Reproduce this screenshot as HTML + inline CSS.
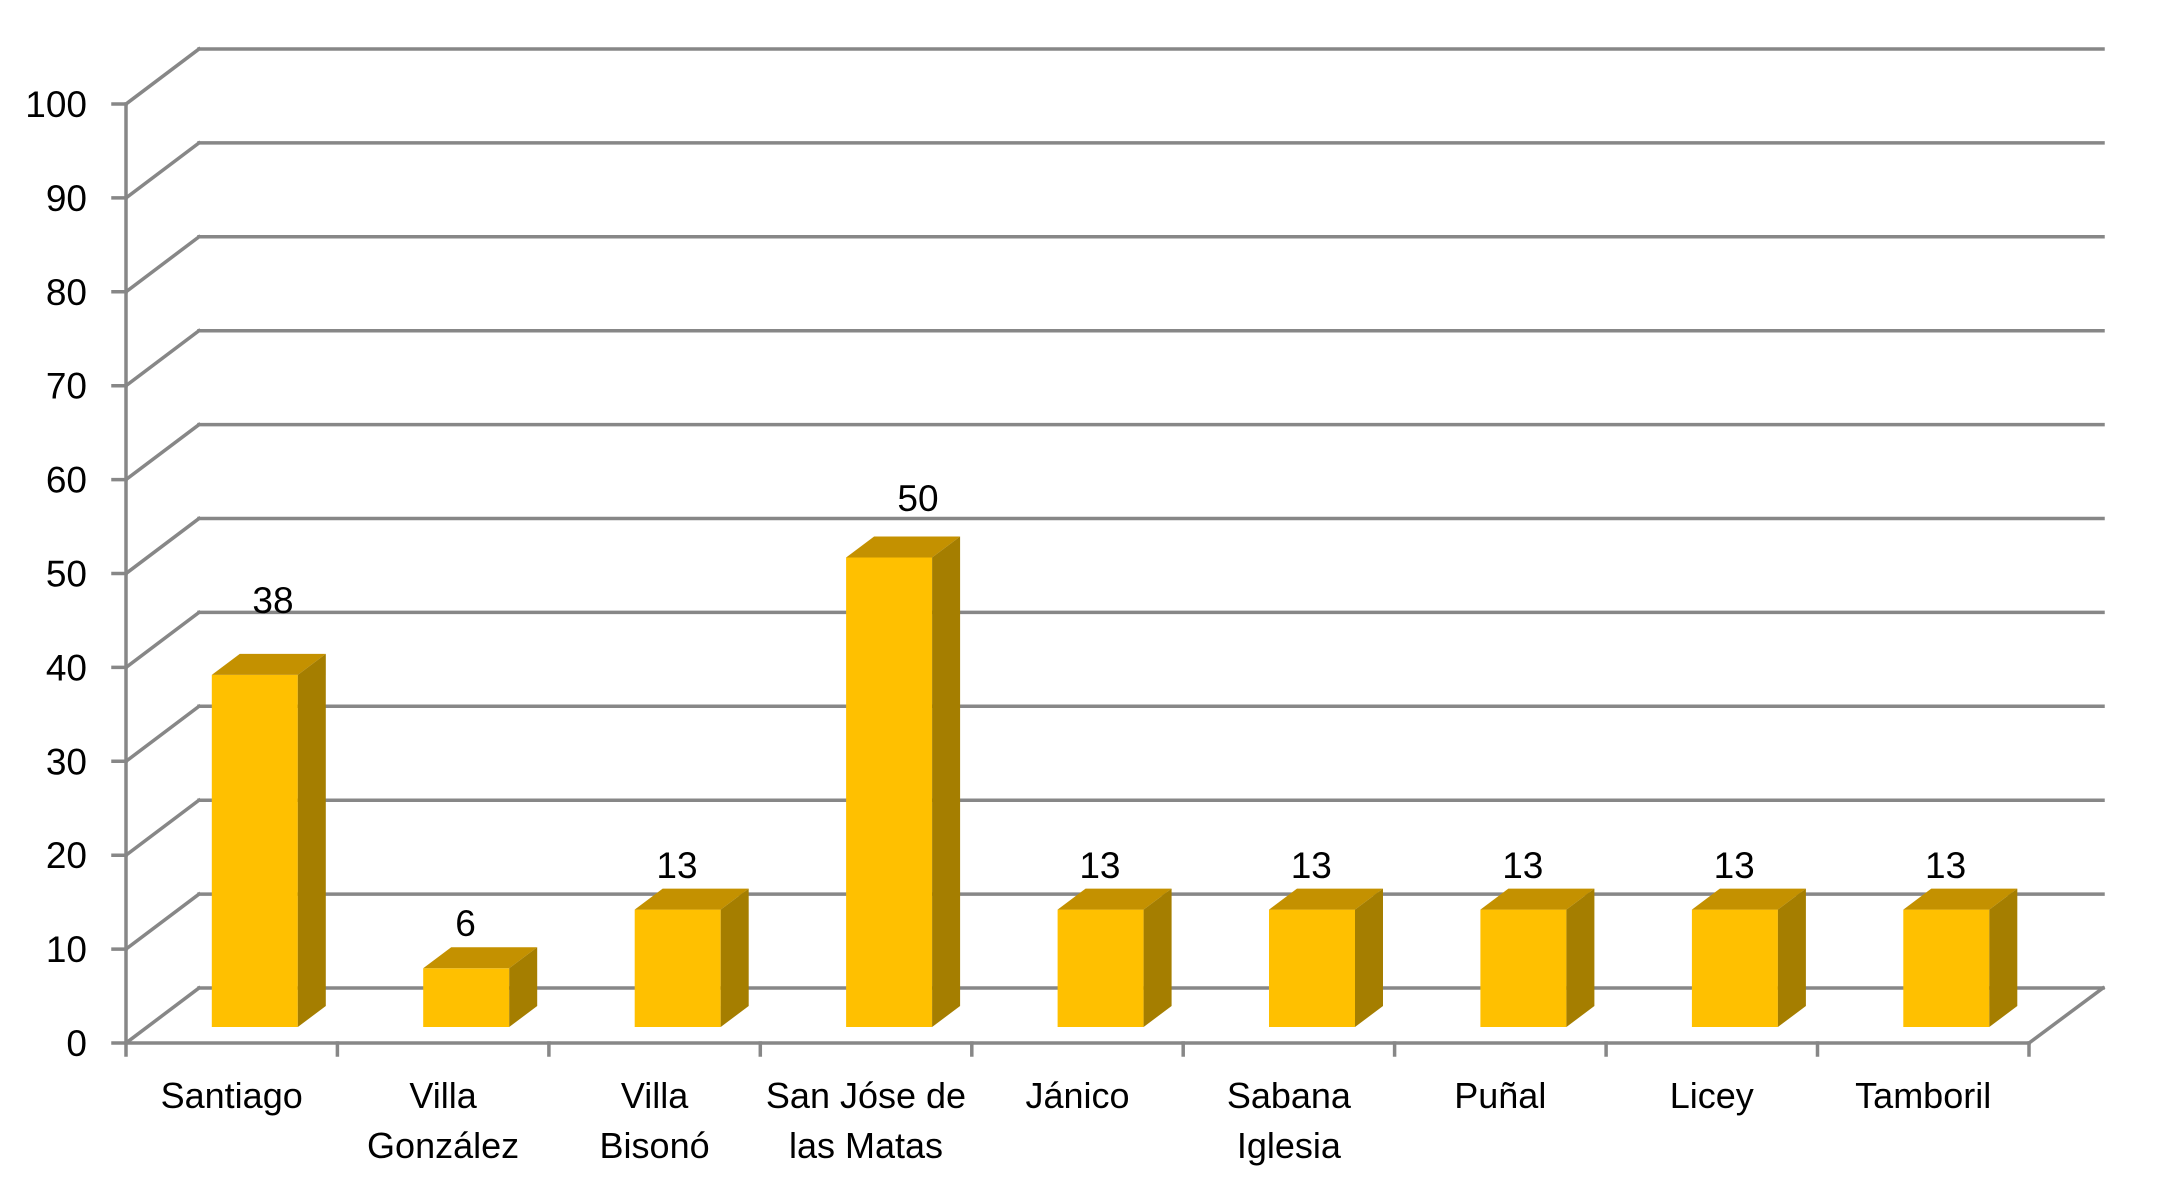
<!DOCTYPE html>
<html>
<head>
<meta charset="utf-8">
<style>
  html, body { margin:0; padding:0; background:#ffffff; }
  svg { display:block; }
  text { font-family: "Liberation Sans", "DejaVu Sans", sans-serif; fill:#000; }
</style>
</head>
<body>
<svg width="2169" height="1199" viewBox="0 0 2169 1199" xmlns="http://www.w3.org/2000/svg">
  <rect x="0" y="0" width="2169" height="1199" fill="#ffffff"/>
  <g stroke="#878787" stroke-width="3.5" fill="none" stroke-linecap="square">
    <line x1="199" y1="988" x2="2103" y2="988"/>
    <line x1="126" y1="1043" x2="199" y2="988"/>
    <line x1="113" y1="1043" x2="126" y2="1043"/>
    <line x1="199" y1="894.1" x2="2103" y2="894.1"/>
    <line x1="126" y1="949.1" x2="199" y2="894.1"/>
    <line x1="113" y1="949.1" x2="126" y2="949.1"/>
    <line x1="199" y1="800.2" x2="2103" y2="800.2"/>
    <line x1="126" y1="855.2" x2="199" y2="800.2"/>
    <line x1="113" y1="855.2" x2="126" y2="855.2"/>
    <line x1="199" y1="706.3" x2="2103" y2="706.3"/>
    <line x1="126" y1="761.3" x2="199" y2="706.3"/>
    <line x1="113" y1="761.3" x2="126" y2="761.3"/>
    <line x1="199" y1="612.4" x2="2103" y2="612.4"/>
    <line x1="126" y1="667.4" x2="199" y2="612.4"/>
    <line x1="113" y1="667.4" x2="126" y2="667.4"/>
    <line x1="199" y1="518.5" x2="2103" y2="518.5"/>
    <line x1="126" y1="573.5" x2="199" y2="518.5"/>
    <line x1="113" y1="573.5" x2="126" y2="573.5"/>
    <line x1="199" y1="424.6" x2="2103" y2="424.6"/>
    <line x1="126" y1="479.6" x2="199" y2="424.6"/>
    <line x1="113" y1="479.6" x2="126" y2="479.6"/>
    <line x1="199" y1="330.7" x2="2103" y2="330.7"/>
    <line x1="126" y1="385.7" x2="199" y2="330.7"/>
    <line x1="113" y1="385.7" x2="126" y2="385.7"/>
    <line x1="199" y1="236.8" x2="2103" y2="236.8"/>
    <line x1="126" y1="291.8" x2="199" y2="236.8"/>
    <line x1="113" y1="291.8" x2="126" y2="291.8"/>
    <line x1="199" y1="142.9" x2="2103" y2="142.9"/>
    <line x1="126" y1="197.9" x2="199" y2="142.9"/>
    <line x1="113" y1="197.9" x2="126" y2="197.9"/>
    <line x1="199" y1="49" x2="2103" y2="49"/>
    <line x1="126" y1="104" x2="199" y2="49"/>
    <line x1="113" y1="104" x2="126" y2="104"/>
    <line x1="126" y1="104" x2="126" y2="1055"/>
    <line x1="126" y1="1043" x2="2029" y2="1043"/>
    <line x1="2029" y1="1043" x2="2103" y2="988"/>
    <line x1="337.4" y1="1043" x2="337.4" y2="1055"/>
    <line x1="548.9" y1="1043" x2="548.9" y2="1055"/>
    <line x1="760.3" y1="1043" x2="760.3" y2="1055"/>
    <line x1="971.8" y1="1043" x2="971.8" y2="1055"/>
    <line x1="1183.2" y1="1043" x2="1183.2" y2="1055"/>
    <line x1="1394.6" y1="1043" x2="1394.6" y2="1055"/>
    <line x1="1606.1" y1="1043" x2="1606.1" y2="1055"/>
    <line x1="1817.5" y1="1043" x2="1817.5" y2="1055"/>
    <line x1="2029" y1="1043" x2="2029" y2="1055"/>
  </g>

  <g>
    <rect x="211.8" y="674.9" width="86" height="352.1" fill="#FFC000"/>
    <polygon points="211.8,674.9 239.8,653.9 325.8,653.9 297.8,674.9" fill="#C49100"/>
    <polygon points="297.8,674.9 325.8,653.9 325.8,1006 297.8,1027" fill="#A57E00"/>

    <rect x="423.2" y="968.3" width="86" height="58.7" fill="#FFC000"/>
    <polygon points="423.2,968.3 451.2,947.3 537.2,947.3 509.2,968.3" fill="#C49100"/>
    <polygon points="509.2,968.3 537.2,947.3 537.2,1006 509.2,1027" fill="#A57E00"/>

    <rect x="634.7" y="909.6" width="86" height="117.4" fill="#FFC000"/>
    <polygon points="634.7,909.6 662.7,888.6 748.7,888.6 720.7,909.6" fill="#C49100"/>
    <polygon points="720.7,909.6 748.7,888.6 748.7,1006 720.7,1027" fill="#A57E00"/>

    <rect x="846.1" y="557.5" width="86" height="469.5" fill="#FFC000"/>
    <polygon points="846.1,557.5 874.1,536.5 960.1,536.5 932.1,557.5" fill="#C49100"/>
    <polygon points="932.1,557.5 960.1,536.5 960.1,1006 932.1,1027" fill="#A57E00"/>

    <rect x="1057.6" y="909.6" width="86" height="117.4" fill="#FFC000"/>
    <polygon points="1057.6,909.6 1085.6,888.6 1171.6,888.6 1143.6,909.6" fill="#C49100"/>
    <polygon points="1143.6,909.6 1171.6,888.6 1171.6,1006 1143.6,1027" fill="#A57E00"/>

    <rect x="1269" y="909.6" width="86" height="117.4" fill="#FFC000"/>
    <polygon points="1269,909.6 1297,888.6 1383,888.6 1355,909.6" fill="#C49100"/>
    <polygon points="1355,909.6 1383,888.6 1383,1006 1355,1027" fill="#A57E00"/>

    <rect x="1480.4" y="909.6" width="86" height="117.4" fill="#FFC000"/>
    <polygon points="1480.4,909.6 1508.4,888.6 1594.4,888.6 1566.4,909.6" fill="#C49100"/>
    <polygon points="1566.4,909.6 1594.4,888.6 1594.4,1006 1566.4,1027" fill="#A57E00"/>

    <rect x="1691.9" y="909.6" width="86" height="117.4" fill="#FFC000"/>
    <polygon points="1691.9,909.6 1719.9,888.6 1805.9,888.6 1777.9,909.6" fill="#C49100"/>
    <polygon points="1777.9,909.6 1805.9,888.6 1805.9,1006 1777.9,1027" fill="#A57E00"/>

    <rect x="1903.3" y="909.6" width="86" height="117.4" fill="#FFC000"/>
    <polygon points="1903.3,909.6 1931.3,888.6 2017.3,888.6 1989.3,909.6" fill="#C49100"/>
    <polygon points="1989.3,909.6 2017.3,888.6 2017.3,1006 1989.3,1027" fill="#A57E00"/>
  </g>

  <g font-size="37" text-anchor="end">
    <text x="87" y="1056">0</text>
    <text x="87" y="962.1">10</text>
    <text x="87" y="868.2">20</text>
    <text x="87" y="774.3">30</text>
    <text x="87" y="680.4">40</text>
    <text x="87" y="586.5">50</text>
    <text x="87" y="492.6">60</text>
    <text x="87" y="398.7">70</text>
    <text x="87" y="304.8">80</text>
    <text x="87" y="210.9">90</text>
    <text x="87" y="117">100</text>
  </g>

  <g font-size="37" text-anchor="middle">
    <text x="273" y="613">38</text>
    <text x="465.5" y="936">6</text>
    <text x="677" y="878">13</text>
    <text x="918" y="511">50</text>
    <text x="1099.9" y="878">13</text>
    <text x="1311.3" y="878">13</text>
    <text x="1522.8" y="878">13</text>
    <text x="1734.2" y="878">13</text>
    <text x="1945.6" y="878">13</text>
  </g>

  <g font-size="36" text-anchor="middle">
    <text x="231.7" y="1108">Santiago</text>
    <text x="443.1" y="1108">Villa</text>
    <text x="443.1" y="1158">González</text>
    <text x="654.6" y="1108">Villa</text>
    <text x="654.6" y="1158">Bisonó</text>
    <text x="866" y="1108">San Jóse de</text>
    <text x="866" y="1158">las Matas</text>
    <text x="1077.5" y="1108">Jánico</text>
    <text x="1288.9" y="1108">Sabana</text>
    <text x="1288.9" y="1158">Iglesia</text>
    <text x="1500.3" y="1108">Puñal</text>
    <text x="1711.8" y="1108">Licey</text>
    <text x="1923.2" y="1108">Tamboril</text>
  </g>
</svg>
</body>
</html>
